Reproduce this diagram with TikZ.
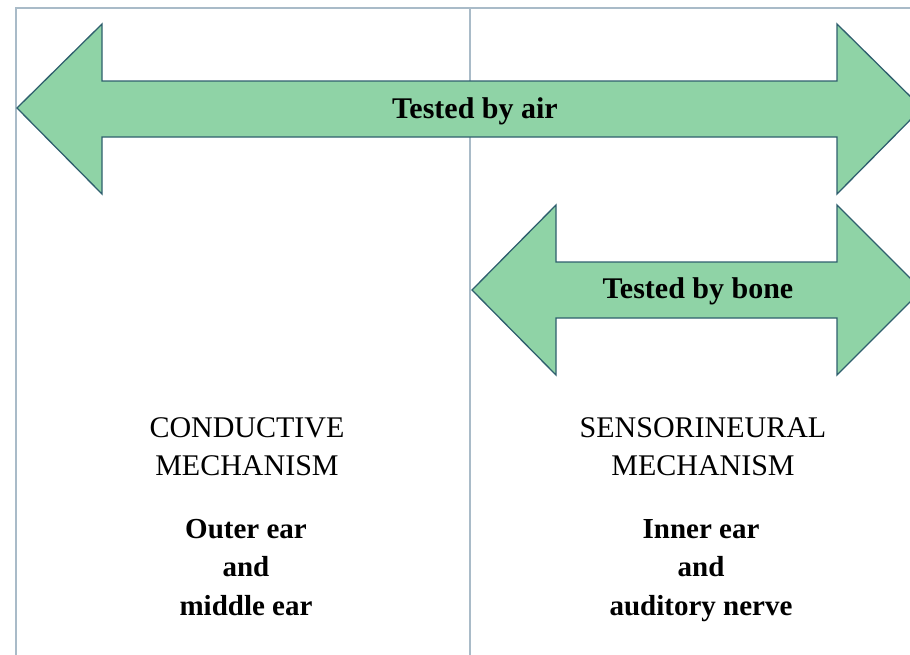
\documentclass[tikz,border=0pt]{standalone}
\usepackage{fontspec}
\setmainfont{Liberation Serif}
\usepackage{xcolor}
\definecolor{arrowgreen}{HTML}{8FD3A6}
\definecolor{arrowedge}{HTML}{2F5F6E}
\definecolor{framegray}{HTML}{A9BBC8}

\begin{document}
\begin{tikzpicture}[
  x=1pt, y=-1pt,
  frameline/.style={draw=framegray, line width=2.4pt},
  dblarrow/.style={fill=arrowgreen, draw=arrowedge, line width=1.3pt, line join=miter},
  testlbl/.style={font=\bfseries\fontsize{30}{36}\selectfont, inner sep=0pt, anchor=base},
  mechlbl/.style={font=\fontsize{30}{38}\selectfont, align=center, inner sep=0pt, anchor=base},
  partlbl/.style={font=\bfseries\fontsize{29}{38.5}\selectfont, align=center, inner sep=0pt, anchor=base}
]
\useasboundingbox (0,0) rectangle (910,654);
\clip (0,0) rectangle (910,654);

% table frame
\draw[frameline] (16,670) -- (16,8) -- (930,8);
\draw[frameline] (470,8) -- (470,670);

% air arrow
\draw[dblarrow] (17,108) -- (102,24) -- (102,81) -- (837,81) -- (837,24)
  -- (922,108) -- (837,194) -- (837,137) -- (102,137) -- (102,194) -- cycle;
\node[testlbl] (air) at (475,118) {Tested by air};

% bone arrow
\draw[dblarrow] (472,290) -- (556,205) -- (556,262) -- (837,262) -- (837,205)
  -- (922,290) -- (837,375) -- (837,318) -- (556,318) -- (556,375) -- cycle;
\node[testlbl] (bone) at (698,298) {Tested by bone};

% columns (base = last line)
\node[mechlbl] (cond) at (247,475) {CONDUCTIVE\\MECHANISM};
\node[partlbl] (outer) at (246,615) {Outer ear\\and\\middle ear};

\node[mechlbl] (sens) at (703,475) {SENSORINEURAL\\MECHANISM};
\node[partlbl] (inner) at (701,615) {Inner ear\\and\\auditory nerve};

\end{tikzpicture}
\end{document}
